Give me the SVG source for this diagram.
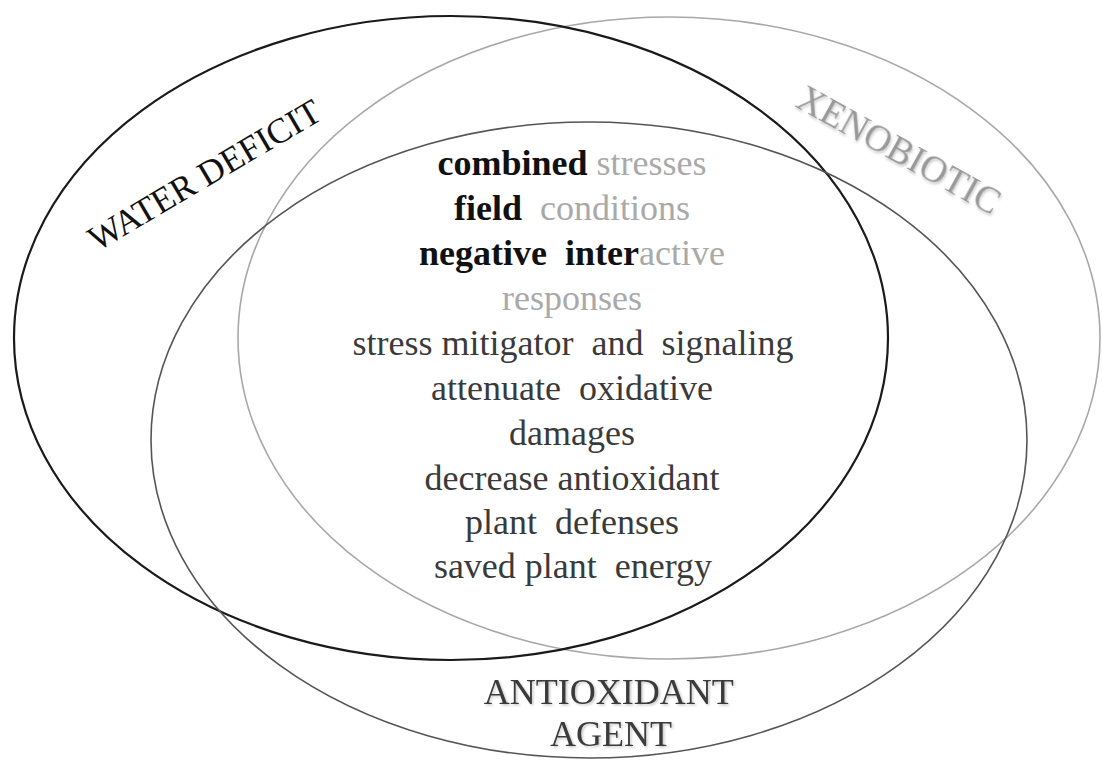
<svg xmlns="http://www.w3.org/2000/svg" width="1102" height="760" viewBox="0 0 1102 760">
  <defs>
    <style>
      .ring { fill: none; }
      .serif { font-family: 'Liberation Serif', serif; }
      .mid { text-anchor: middle; }
      .body { font-size: 36px; fill: #3a3a3a; }
      .blk { font-weight: bold; fill: #111; }
      .lgt { fill: #a9a9a9; }
    </style>
    <filter id="sh" x="-10%" y="-20%" width="130%" height="150%">
      <feDropShadow dx="1.5" dy="1.5" stdDeviation="1" flood-color="#000" flood-opacity="0.22"/>
    </filter>
  </defs>
  <rect width="1102" height="760" fill="#fff"/>

  <g id="xenobiotic">
    <ellipse class="ring" cx="669" cy="338" rx="431" ry="321" stroke="#a8a8a8" stroke-width="1.6"/>
    <text class="serif" font-family="'Liberation Serif'" x="0" y="0" transform="translate(794,106) rotate(29)" font-size="37" fill="#999" filter="url(#sh)">XENOBIOTIC</text>
  </g>

  <g id="water-deficit">
    <ellipse class="ring" cx="451" cy="338" rx="437" ry="322" stroke="#1a1a1a" stroke-width="2.2"/>
    <text class="serif" font-family="'Liberation Serif'" x="0" y="0" transform="translate(97,252) rotate(-30.5)" font-size="35.5" fill="#111">WATER DEFICIT</text>
  </g>

  <g id="antioxidant-agent">
    <ellipse class="ring" cx="589" cy="440" rx="438" ry="318" stroke="#555" stroke-width="1.6"/>
    <text class="serif mid" font-family="'Liberation Serif'" font-size="36" fill="#3a3a3a" filter="url(#sh)">
      <tspan x="613" y="704">ANTIOXIDANT</tspan>
      <tspan x="611" y="746">AGENT</tspan>
    </text>
  </g>

  <g id="overlap-text" class="serif mid body" font-family="'Liberation Serif'">
    <text x="572" y="175" xml:space="preserve"><tspan class="blk">combined</tspan> <tspan class="lgt">stresses</tspan></text>
    <text x="572" y="220" xml:space="preserve"><tspan class="blk">field</tspan>  <tspan class="lgt">conditions</tspan></text>
    <text x="572" y="265" xml:space="preserve"><tspan class="blk">negative  inter</tspan><tspan class="lgt">active</tspan></text>
    <text x="572" y="310" class="lgt">responses</text>
    <text x="573" y="355" xml:space="preserve">stress mitigator  and  signaling</text>
    <text x="572" y="400" xml:space="preserve">attenuate  oxidative</text>
    <text x="572" y="445">damages</text>
    <text x="572" y="490">decrease antioxidant</text>
    <text x="572" y="534" xml:space="preserve">plant  defenses</text>
    <text x="573" y="578" xml:space="preserve">saved plant  energy</text>
  </g>
</svg>
